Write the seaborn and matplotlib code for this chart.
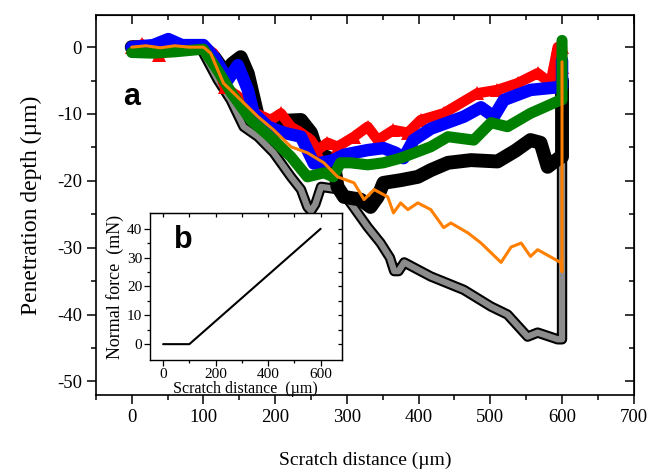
import matplotlib
matplotlib.use("Agg")
import matplotlib.pyplot as plt
import matplotlib.patheffects as pe
import seaborn as sns
import pandas as pd

# scratch distance (um) / penetration depth (um)
sq_x = [0, 25, 50, 75, 96, 100, 120, 138, 156, 176, 198, 222, 236, 245, 250, 256, 264, 291, 305, 329,
        347, 360, 366, 372, 380, 417, 463, 501, 524, 552, 566, 594, 600, 600]
sq_y = [0, 0, 0, 0, 0, -0.9, -4.9, -7.9, -11.9, -13.4, -15.8, -19.4, -21.3, -23.9, -24.5, -23.5, -20.9, -21.3, -23.3, -26.9,
        -29.3, -31.5, -33.5, -33.5, -32.2, -34.3, -36.3, -38.8, -40, -43.3, -42.7, -43.7, -43.7, -5]

blk_x = [0, 30, 60, 100, 115, 131, 140, 152, 162, 176, 195, 215, 236, 250, 259, 281, 287, 296, 319, 333,
         343, 351, 375, 399, 417, 441, 473, 510, 535, 556, 570, 580, 598, 600, 600]
blk_y = [0, 0, 0, 0, -1.5, -3.9, -2.5, -1.5, -4, -10.4, -11.5, -11, -10.9, -12.8, -15.8, -16.9, -20.9, -22.4, -22.8, -23.9,
         -22.4, -20.3, -19.9, -19.4, -18.4, -17.3, -16.9, -17.1, -15.5, -13.9, -14.3, -17.9, -16.4, -16.4, -5]

red_x = [0, 15, 38, 60, 100, 114, 130, 150, 175, 194, 208, 222, 236, 250, 259, 273, 287, 310, 329, 343,
         365, 385, 403, 435, 482, 510, 538, 566, 584, 594, 600, 600]
red_y = [0, 0.4, -1.2, 0, 0, -0.9, -6, -7.5, -10, -10.9, -9.9, -11.9, -12.8, -13.9, -15.4, -14.3, -14.9, -13.4, -11.9, -13.9,
         -12.4, -12.8, -10.9, -9.9, -6.9, -6.4, -5.4, -3.9, -5.4, 0, -3, 0]

blu_x = [0, 30, 51, 70, 100, 115, 134, 148, 162, 170, 190, 212, 236, 245, 254, 264, 281, 296, 329, 351,
         368, 379, 393, 417, 463, 487, 505, 519, 556, 594, 600, 600]
blu_y = [0, 0.3, 1.2, 0.3, 0.3, -1.5, -4.9, -2.7, -6.4, -9.9, -11.9, -12.8, -13.4, -15.4, -17.4, -17.3, -16.9, -16.1, -15.4, -15.1,
         -15.8, -16.6, -13.9, -12.2, -10.4, -9, -10.4, -7.9, -6.4, -6, -6, -2]

grn_x = [0, 30, 60, 100, 120, 140, 166, 198, 222, 245, 268, 281, 291, 305, 329, 351, 375, 417, 441, 477,
         501, 524, 556, 575, 598, 600, 600]
grn_y = [-0.8, -0.9, -0.7, -0.3, -3.5, -7, -10.9, -13.9, -16.4, -19.4, -18.8, -19.4, -17.3, -17.3, -17.6, -17.3, -16.6, -14.9, -13.4, -13.9,
         -11.3, -11.9, -9.9, -9, -7.9, -7.9, 1]

org_x = [0, 20, 40, 60, 80, 100, 110, 128, 152, 176, 198, 222, 245, 254, 268, 287, 310, 324, 338, 357,
         365, 375, 385, 399, 417, 435, 445, 469, 487, 515, 529, 543, 556, 566, 598, 600, 600]
org_y = [0, 0.2, -0.1, 0.2, 0, 0, -0.9, -5.4, -7.9, -10.4, -12.4, -14.9, -15.8, -16.4, -17.3, -19.4, -20.3, -22.8, -21.3, -22.4,
         -24.8, -23.3, -24.3, -23.3, -24.3, -27, -26.3, -27.8, -29.3, -32.2, -29.9, -29.3, -31.3, -30.3, -32.2, -33.6, -2.2]

# inset: normal force (mN) vs scratch distance
load_x = [0, 100, 600]
load_y = [0, 0, 40]

sns.set_style("ticks")
plt.rcParams['font.family'] = ['Liberation Serif', 'DejaVu Serif']
plt.rcParams.update({'axes.unicode_minus': False, 'text.color': 'black', 'axes.labelcolor': 'black',
                     'xtick.color': 'black', 'ytick.color': 'black', 'axes.edgecolor': 'black'})

fig = plt.figure(figsize=(6.52, 4.70), dpi=100)
ax = fig.add_axes([0.147, 0.160, 0.825, 0.808])

kw = dict(sort=False, estimator=None, legend=False, ax=ax)
sns.lineplot(x=sq_x, y=sq_y, color='#8c8c8c', lw=4.5, solid_joinstyle='round',
             path_effects=[pe.Stroke(linewidth=7.5, foreground='black'), pe.Normal()], zorder=2, **kw)
sns.lineplot(x=blk_x, y=blk_y, color='black', lw=10, solid_joinstyle='round', zorder=3, **kw)
sns.lineplot(x=red_x, y=red_y, color='red', lw=7.5, marker='^', markersize=10, markeredgewidth=0,
             solid_joinstyle='round', zorder=4, **kw)
sns.lineplot(x=blu_x, y=blu_y, color='blue', lw=9, solid_joinstyle='round', zorder=5, **kw)
sns.lineplot(x=grn_x, y=grn_y, color='green', lw=8, solid_joinstyle='round', zorder=6, **kw)
sns.lineplot(x=org_x, y=org_y, color='#ff7f00', lw=2.2, zorder=7, **kw)

ax.set_xlim(-50, 700)
ax.set_ylim(-52, 4.8)
ax.set_xticks(range(0, 701, 100))
ax.set_xticks(range(-50, 701, 100), minor=True)
ax.set_yticks(range(-50, 1, 10))
ax.set_yticks(range(-45, 5, 10), minor=True)
for s in ax.spines.values():
    s.set_linewidth(1.2)
    s.set_visible(True)
ax.tick_params(which='both', direction='out', width=1.1, labelsize=13.5, top=False, right=False)
ax.tick_params(which='major', length=6.5)
ax.tick_params(which='minor', length=3.5)
sec_x = ax.secondary_xaxis('top')
sec_x.set_xticks(range(0, 701, 100))
sec_x.set_xticks(range(-50, 701, 100), minor=True)
sec_x.tick_params(which='both', direction='in', width=1.1, labeltop=False)
sec_x.tick_params(which='major', length=6.5)
sec_x.tick_params(which='minor', length=3.5)
sec_y = ax.secondary_yaxis('right')
sec_y.set_yticks(range(-50, 1, 10))
sec_y.set_yticks(range(-45, 5, 10), minor=True)
sec_y.tick_params(which='both', direction='in', width=1.1, labelright=False)
sec_y.tick_params(which='major', length=6.5)
sec_y.tick_params(which='minor', length=3.5)
ax.set_xlabel('Scratch distance (µm)', fontsize=14, labelpad=19)
ax.set_ylabel('Penetration depth (µm)', fontsize=17, labelpad=11)
ax.text(0, -7.5, 'a', fontsize=22, fontweight='bold', family=['Liberation Sans', 'DejaVu Sans'],
        ha='center', va='center')

# inset (b)
ins = fig.add_axes([0.230, 0.234, 0.294, 0.313], zorder=10)
ins.set_facecolor('white')
sns.lineplot(x=load_x, y=load_y, color='black', lw=1.5, ax=ins, sort=False, estimator=None)
ins.set_xlim(-50, 680)
ins.set_ylim(-5.5, 45.5)
ins.set_xticks([0, 200, 400, 600])
ins.set_xticks([100, 300, 500], minor=True)
ins.set_yticks([0, 10, 20, 30, 40])
ins.set_yticks([5, 15, 25, 35], minor=True)
for s in ins.spines.values():
    s.set_linewidth(1.0)
    s.set_visible(True)
ins.tick_params(which='both', direction='out', width=0.9, labelsize=11, pad=1.5)
ins.tick_params(which='major', length=4)
ins.tick_params(which='minor', length=2.5)
it = ins.secondary_xaxis('top')
it.set_xticks([0, 200, 400, 600])
it.set_xticks([100, 300, 500], minor=True)
it.tick_params(which='both', direction='in', width=0.9, labeltop=False, length=3)
ir = ins.secondary_yaxis('right')
ir.set_yticks([0, 10, 20, 30, 40])
ir.set_yticks([5, 15, 25, 35], minor=True)
ir.tick_params(which='both', direction='in', width=0.9, labelright=False, length=3)
ins.set_xlabel('Scratch distance  (µm)', fontsize=11.5, labelpad=0.5)
ins.set_ylabel('Normal force  (mN)', fontsize=13, labelpad=2)
ins.text(76, 36, 'b', fontsize=22, fontweight='bold', family=['Liberation Sans', 'DejaVu Sans'],
         ha='center', va='center')

fig.savefig('out.png', dpi=100)
plt.close()
